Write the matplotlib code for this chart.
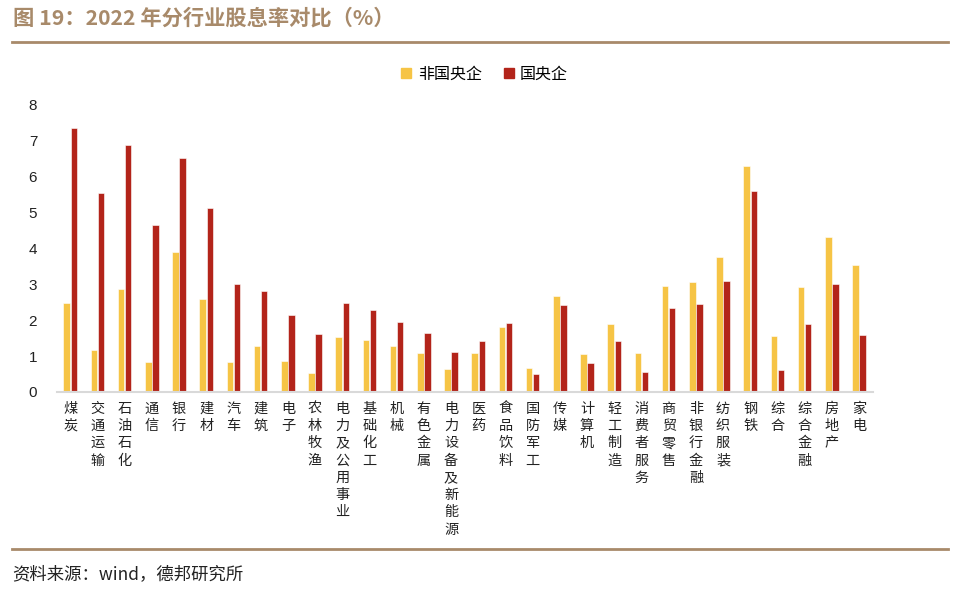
import matplotlib
matplotlib.use("Agg")
import matplotlib.pyplot as plt
import numpy as np
from matplotlib.lines import Line2D

plt.rcParams["font.family"] = ["Noto Sans CJK SC", "DejaVu Sans"]

categories = ["煤炭", "交通运输", "石油石化", "通信", "银行", "建材", "汽车", "建筑", "电子",
              "农林牧渔", "电力及公用事业", "基础化工", "机械", "有色金属", "电力设备及新能源",
              "医药", "食品饮料", "国防军工", "传媒", "计算机", "轻工制造", "消费者服务",
              "商贸零售", "非银行金融", "纺织服装", "钢铁", "综合", "综合金融", "房地产", "家电"]
non_soe = [2.47, 1.16, 2.87, 0.82, 3.89, 2.58, 0.84, 1.27, 0.87, 0.52, 1.53, 1.46, 1.29, 1.09,
           0.63, 1.09, 1.82, 0.66, 2.66, 1.07, 1.89, 1.08, 2.95, 3.06, 3.76, 6.29, 1.56, 2.93,
           4.33, 3.54]
soe = [7.35, 5.53, 6.87, 4.64, 6.51, 5.13, 3.00, 2.81, 2.13, 1.62, 2.47, 2.27, 1.94, 1.64,
       1.12, 1.42, 1.92, 0.50, 2.42, 0.80, 1.43, 0.56, 2.35, 2.46, 3.09, 5.60, 0.61, 1.90,
       3.02, 1.58]
series_names = ["非国央企", "国央企"]
yticks = [0, 1, 2, 3, 4, 5, 6, 7, 8]

YELLOW = "#F6C445"
RED = "#B3241A"
BROWN = "#A88A6A"

fig = plt.figure(figsize=(9.6, 5.92), dpi=100)
ax = fig.add_axes([0.059, 0.338, 0.85, 0.485])

x = np.arange(len(categories))
w = 0.24
ax.bar(x - 0.13, non_soe, w, color=YELLOW, edgecolor="white", linewidth=0.4)
ax.bar(x + 0.13, soe, w, color=RED, edgecolor="white", linewidth=0.4)

ax.set_xlim(-0.5, len(categories) - 0.5)
ax.set_ylim(0, 8)
ax.set_yticks(yticks)
ax.set_yticklabels([str(t) for t in yticks], fontsize=11, family="Liberation Sans")
ax.set_xticks(x)
ax.set_xticklabels(["\n".join(c) for c in categories], fontsize=10.2, va="top",
                   linespacing=1.3)
ax.tick_params(axis="both", length=0, colors="#222222")
ax.tick_params(axis="y", pad=14)
ax.tick_params(axis="x", pad=7)
for s in ["top", "right", "left"]:
    ax.spines[s].set_visible(False)
ax.spines["bottom"].set_color("#d9d9d9")
ax.spines["bottom"].set_linewidth(1.5)

handles = [Line2D([], [], marker="s", linestyle="", markersize=7.5, color=c)
           for c in (YELLOW, RED)]
fig.legend(handles, series_names, loc="center", bbox_to_anchor=(0.505, 0.875), ncol=2,
           frameon=False, fontsize=11.5, handlelength=0.6, handletextpad=0.4,
           columnspacing=1.4)

fig.text(0.014, 0.97, "图 19：2022 年分行业股息率对比（%）", fontsize=15.3, fontweight="bold",
         color=BROWN, va="center", ha="left")
fig.add_artist(Line2D([0.0125, 0.988], [0.929, 0.929], color=BROWN, linewidth=2))
fig.add_artist(Line2D([0.0125, 0.988], [0.073, 0.073], color=BROWN, linewidth=2))
fig.text(0.013, 0.030, "资料来源：wind，德邦研究所", fontsize=12.5, color="#222222",
         va="center", ha="left")

fig.savefig("out.png", dpi=100)
